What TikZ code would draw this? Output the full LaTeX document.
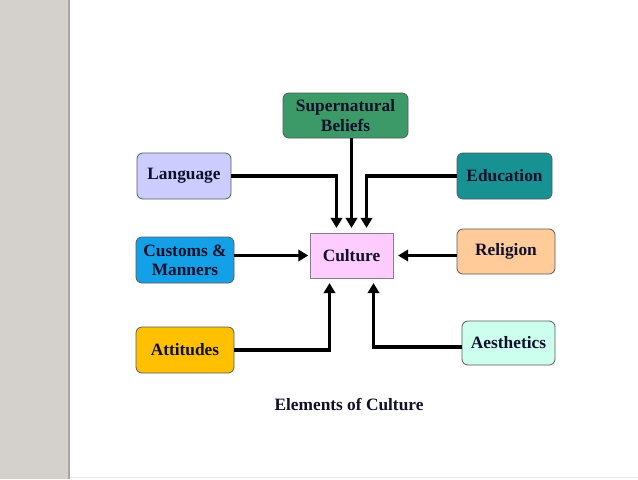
\documentclass[tikz,border=0pt]{standalone}
\usepackage{fontspec}
\setmainfont{Liberation Serif}
\usepackage{xcolor}
\usetikzlibrary{arrows.meta,positioning,calc}
\definecolor{elStrip}{HTML}{D4D1CD}
\definecolor{elStripEdge}{HTML}{A9A6A3}
\definecolor{elBorder}{HTML}{5A5A5A}
\definecolor{elText}{HTML}{10102A}
\definecolor{elGreen}{HTML}{3C9A68}
\definecolor{elLav}{HTML}{CCCCFF}
\definecolor{elTeal}{HTML}{179191}
\definecolor{elBlue}{HTML}{14A0E6}
\definecolor{elPink}{HTML}{FFCCFF}
\definecolor{elPeach}{HTML}{FFCC99}
\definecolor{elGold}{HTML}{FFC000}
\definecolor{elMint}{HTML}{CCFFEE}

\begin{document}
\begin{tikzpicture}[
  x=.75pt,y=-.75pt,
  element/.style={draw=elBorder,line width=.6pt,rounded corners=4.5pt,
    font=\fontsize{13}{14.5}\selectfont\bfseries,text=elText,align=center,
    inner sep=0pt},
  core/.style={draw=elBorder!70!elPink,line width=.6pt,
    font=\fontsize{13}{14.5}\selectfont\bfseries,text=elText,inner sep=0pt},
  link/.style={draw=black,line width=2.3pt,shorten >=3.5pt,
    -{Triangle[length=7.5pt,width=8.5pt]}},
  caption/.style={font=\fontsize{13}{14.5}\selectfont\bfseries,text=elText}
]
  \useasboundingbox (0,0) rectangle (638,479);
  \fill[white] (0,0) rectangle (638,479);
  \fill[elStrip] (0,0) rectangle (68,479);
  \draw[elStripEdge,line width=1.5pt] (68.5,0) -- (68.5,479);
  \draw[black!8,line width=.8pt] (70,477.5) -- (638,477.5);

  % elements of culture
  \node[element,fill=elGreen,minimum width=93.75pt,minimum height=33.75pt] (super) at (345.5,115.5) {Supernatural\\Beliefs};
  \node[element,fill=elLav,minimum width=70.5pt,minimum height=34.5pt] (lang) at (184,176) {Language};
  \node[element,fill=elTeal,minimum width=71.25pt,minimum height=34.5pt] (edu) at (504.5,176) {Education};
  \node[element,fill=elBlue,minimum width=73.5pt,minimum height=34.5pt] (cust) at (185,260) {Customs \&\\Manners};
  \node[element,fill=elPeach,minimum width=73.5pt,minimum height=33.75pt] (rel) at (506,251.5) {Religion};
  \node[element,fill=elGold,minimum width=73.5pt,minimum height=34.5pt] (att) at (185,350) {Attitudes};
  \node[element,fill=elMint,minimum width=69.75pt,minimum height=33pt] (aes) at (508.5,343) {Aesthetics};
  \node[core,fill=elPink,minimum width=62.25pt,minimum height=33.75pt] (cult) at (351.5,255.5) {Culture};

  % arrows into culture
  \draw[link] (lang.east) -| ($(cult.north)+(-15,0)$);
  \draw[link] (super.south -| cult.north) -- (cult.north);
  \draw[link] (edu.west) -| ($(cult.north)+(15,0)$);
  \draw[link,shorten >=1pt] (cust.east |- cult.west) -- (cult.west);
  \draw[link] (rel.west |- cult.east) -- (cult.east);
  \draw[link] (att.east) -| ($(cult.south)+(-22,0)$);
  \draw[link] ($(aes.west)+(0,4)$) -| ($(cult.south)+(22,0)$);

  \node[caption] (title) at (349,404) {Elements of Culture};
\end{tikzpicture}
\end{document}
